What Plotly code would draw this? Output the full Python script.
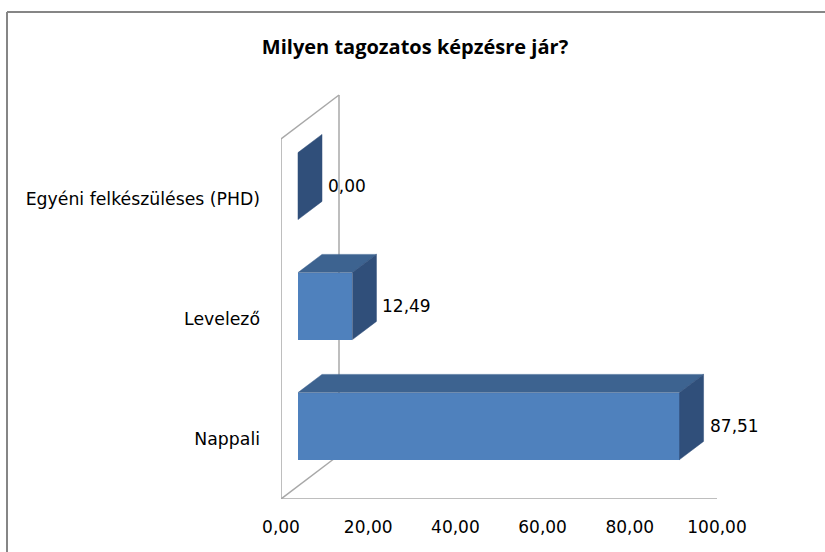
import plotly.graph_objects as go

# ---- data ----
categories = ["Egyéni felkészüléses (PHD)", "Levelező", "Nappali"]
values = [0.00, 12.49, 87.51]
x_ticks = [0, 20, 40, 60, 80, 100]
x_tick_labels = ["0,00", "20,00", "40,00", "60,00", "80,00", "100,00"]
title_text = "Milyen tagozatos képzésre jár?"

# ---- layout geometry (pixels) ----
W, H = 825, 552
ML, MR, MT, MB = 281, 25, 90, 53
PX_PER_UNIT = 4.36          # x pixels per value unit
PX_PER_CAT = 120.0          # y pixels per category
plot_w = W - ML - MR
plot_h = H - MT - MB
x_max = plot_w / PX_PER_UNIT
y_min = -0.5
y_max = y_min + plot_h / PX_PER_CAT

# 3D depth vector (pixels -> data units)
DX = 58 / PX_PER_UNIT
DY = 44 / PX_PER_CAT
F1, F2 = 0.293, 0.707       # bar depth span (fraction of wall depth)
BAR_H = 67 / PX_PER_CAT

FRONT = "#4F81BD"
TOP = "#3D6390"
SIDE = "#304F7A"
WALL = "#A8A8A8"
FONT = "'DejaVu Sans', sans-serif"
TFONT = "'Open Sans', sans-serif"

n = len(categories)
ypos = [n - 1 - i for i in range(n)]
axis_max = x_ticks[-1]

fig = go.Figure()

# side wall outline + floor diagonal + front floor edge (below the bars)
wall_pts = [(0, y_min), (0, y_min + n), (DX, y_min + n + DY), (DX, y_min + DY), (0, y_min)]
for (xa, ya), (xb, yb) in zip(wall_pts[:-1], wall_pts[1:]):
    fig.add_shape(type="line", xref="x", yref="y", x0=xa, y0=ya, x1=xb, y1=yb,
                  line=dict(color=WALL, width=1.5), layer="below")
fig.add_shape(type="line", xref="x", yref="y", x0=0, y0=y_min, x1=axis_max, y1=y_min,
              line=dict(color=WALL, width=1.5), layer="below")

base = F1 * DX
ddx = (F2 - F1) * DX
ddy = (F2 - F1) * DY
yc = [p + F1 * DY for p in ypos]

# front faces
fig.add_trace(go.Bar(
    y=yc, x=values, base=[base] * n, orientation="h", width=BAR_H,
    marker=dict(color=FRONT, line=dict(width=0)),
    hoverinfo="skip", showlegend=False))

for v, c in zip(values, yc):
    top = c + BAR_H / 2
    bot = c - BAR_H / 2
    right = base + v
    # top face
    if v > 0:
        fig.add_trace(go.Scatter(
            x=[base, right, right + ddx, base + ddx, base],
            y=[top, top, top + ddy, top + ddy, top],
            fill="toself", fillcolor=TOP, mode="lines",
            line=dict(color=TOP, width=0.5),
            hoverinfo="skip", showlegend=False))
    # side face
    fig.add_trace(go.Scatter(
        x=[right, right, right + ddx, right + ddx, right],
        y=[bot, top, top + ddy, bot + ddy, bot],
        fill="toself", fillcolor=SIDE, mode="lines",
        line=dict(color=SIDE, width=0.5),
        hoverinfo="skip", showlegend=False))
    # data label
    fig.add_annotation(
        x=right + ddx, y=c, text=f"{v:.2f}".replace(".", ","),
        showarrow=False, xanchor="left", yanchor="middle", xshift=4,
        font=dict(family=FONT, size=17, color="#000000"))

# chart frame (top and left edges visible)
fx = lambda px: (px - ML) / plot_w
fy = lambda py: 1 - (py - MT) / plot_h
fig.add_shape(type="line", xref="paper", yref="paper",
              x0=fx(7), x1=fx(7), y0=fy(12), y1=fy(H + 5),
              line=dict(color="#868686", width=2))
fig.add_shape(type="line", xref="paper", yref="paper",
              x0=fx(7), x1=fx(W + 5), y0=fy(12), y1=fy(12),
              line=dict(color="#868686", width=2))

fig.update_layout(
    width=W, height=H, autosize=False,
    margin=dict(l=ML, r=MR, t=MT, b=MB, autoexpand=False),
    paper_bgcolor="white", plot_bgcolor="white",
    title=dict(text=f"<b>{title_text}</b>", x=415 / W, xanchor="center",
               y=1 - 47 / H, yanchor="middle", yref="container",
               font=dict(family=TFONT, size=20, color="#000000")),
    xaxis=dict(range=[0, x_max], showgrid=False, zeroline=False, showline=False,
               tickvals=x_ticks, ticktext=x_tick_labels, ticks="",
               ticklabelstandoff=16, automargin=False,
               tickfont=dict(family=FONT, size=17, color="#000000")),
    yaxis=dict(range=[y_min, y_max], showgrid=False, zeroline=False, showline=False,
               tickvals=ypos, ticktext=categories, ticks="",
               ticklabelstandoff=20, automargin=False,
               tickfont=dict(family=FONT, size=17.3, color="#000000")),
    bargap=0,
)

fig.write_html("out.html",
               config={"displayModeBar": False},
               post_script="document.body.style.margin='0';document.body.style.padding='0';")
